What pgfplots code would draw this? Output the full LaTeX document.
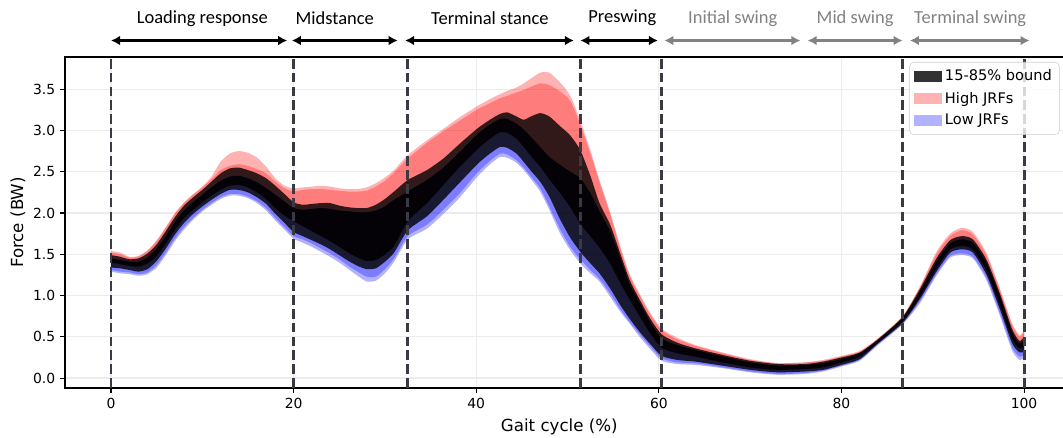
\documentclass[border=0pt]{standalone}
\usepackage{pgfplots}
\pgfplotsset{compat=1.18}
\usepackage{pgfplotstable}
\usepgfplotslibrary{fillbetween}
\usetikzlibrary{arrows.meta}
\usepackage{fontspec}
\setmainfont{DejaVu Sans}
\newfontfamily\phasefont{Carlito}
\definecolor{dashc}{RGB}{58,58,66}
\definecolor{gridc}{RGB}{236,236,236}
\definecolor{swingc}{RGB}{130,130,130}
\definecolor{legc}{RGB}{204,204,204}

\pgfplotstableread{
x ro ri kah kbh kal kbl bi bo
0 1.54 1.52 1.49 1.45 1.40 1.34 1.31 1.29
1 1.52 1.50 1.47 1.43 1.38 1.33 1.29 1.27
2 1.47 1.46 1.44 1.41 1.36 1.31 1.28 1.26
3 1.48 1.47 1.45 1.41 1.35 1.29 1.26 1.24
4 1.55 1.54 1.51 1.46 1.39 1.32 1.28 1.26
5 1.67 1.66 1.62 1.57 1.48 1.42 1.37 1.34
6 1.83 1.82 1.78 1.72 1.63 1.57 1.52 1.49
7 2.00 1.99 1.95 1.89 1.80 1.74 1.69 1.66
8 2.13 2.12 2.09 2.03 1.94 1.88 1.83 1.80
9 2.23 2.22 2.19 2.13 2.04 1.99 1.94 1.92
10 2.32 2.31 2.28 2.22 2.13 2.08 2.04 2.02
11 2.44 2.41 2.38 2.31 2.21 2.16 2.12 2.10
12 2.62 2.52 2.48 2.39 2.28 2.23 2.19 2.17
13 2.72 2.57 2.54 2.44 2.33 2.28 2.23 2.21
14 2.75 2.59 2.55 2.45 2.34 2.28 2.23 2.21
15 2.73 2.57 2.52 2.42 2.31 2.25 2.20 2.18
16 2.67 2.53 2.48 2.37 2.25 2.19 2.14 2.12
17 2.56 2.48 2.42 2.30 2.17 2.11 2.06 2.03
18 2.42 2.38 2.33 2.22 2.06 1.99 1.94 1.91
19 2.33 2.30 2.23 2.14 1.97 1.88 1.83 1.80
20 2.30 2.26 2.13 2.06 1.90 1.77 1.72 1.69
21 2.31 2.28 2.10 2.04 1.84 1.72 1.68 1.64
22 2.32 2.29 2.11 2.05 1.78 1.67 1.63 1.59
23 2.33 2.29 2.12 2.06 1.72 1.62 1.57 1.53
24 2.32 2.28 2.12 2.05 1.66 1.56 1.51 1.47
25 2.30 2.27 2.09 2.03 1.59 1.49 1.44 1.40
26 2.29 2.26 2.07 2.02 1.52 1.42 1.36 1.32
27 2.29 2.26 2.06 2.01 1.46 1.36 1.29 1.24
28 2.31 2.27 2.06 2.01 1.42 1.32 1.23 1.17
29 2.36 2.32 2.10 2.03 1.43 1.33 1.23 1.18
30 2.43 2.39 2.17 2.08 1.50 1.41 1.32 1.27
31 2.52 2.49 2.26 2.16 1.60 1.52 1.45 1.41
32.5 2.70 2.66 2.40 2.26 1.90 1.79 1.72 1.68
34.6 2.88 2.85 2.52 2.40 2.12 1.96 1.86 1.81
36.4 3.02 2.99 2.66 2.55 2.34 2.16 2.04 1.99
38.2 3.16 3.12 2.84 2.74 2.56 2.37 2.24 2.19
40.2 3.30 3.26 3.03 2.96 2.78 2.60 2.50 2.45
41.5 3.38 3.33 3.13 3.07 2.90 2.72 2.63 2.59
42.6 3.44 3.39 3.20 3.14 2.98 2.80 2.72 2.68
43.4 3.48 3.42 3.22 3.14 2.97 2.79 2.71 2.67
44.4 3.52 3.46 3.17 3.08 2.90 2.72 2.64 2.61
45.2 3.57 3.49 3.13 3.01 2.80 2.62 2.55 2.52
46.0 3.63 3.53 3.17 2.92 2.69 2.51 2.44 2.41
47.0 3.70 3.57 3.21 2.80 2.56 2.38 2.30 2.26
48.0 3.70 3.55 3.17 2.68 2.41 2.20 2.08 2.04
49.2 3.58 3.47 3.05 2.58 2.24 1.92 1.80 1.75
50.3 3.42 3.36 2.94 2.50 2.07 1.70 1.59 1.55
51.4 3.12 3.07 2.76 2.42 1.87 1.53 1.44 1.39
52.5 2.76 2.72 2.45 2.24 1.72 1.39 1.31 1.27
53.5 2.40 2.37 2.12 2.02 1.58 1.27 1.20 1.17
54.7 2.00 1.97 1.85 1.77 1.38 1.08 1.02 0.98
55.8 1.59 1.56 1.50 1.44 1.15 0.88 0.83 0.80
56.8 1.26 1.24 1.19 1.14 0.95 0.72 0.68 0.66
57.9 1.02 1.00 0.95 0.91 0.75 0.56 0.53 0.50
59.0 0.80 0.78 0.73 0.69 0.55 0.42 0.39 0.36
60.3 0.60 0.58 0.53 0.48 0.37 0.27 0.24 0.21
62 0.49 0.47 0.43 0.40 0.30 0.22 0.19 0.17
64 0.40 0.39 0.36 0.34 0.26 0.20 0.18 0.16
67 0.31 0.30 0.28 0.26 0.19 0.15 0.13 0.12
70 0.23 0.22 0.21 0.19 0.13 0.10 0.08 0.07
73 0.18 0.18 0.17 0.15 0.10 0.07 0.05 0.04
76 0.19 0.19 0.17 0.16 0.11 0.08 0.06 0.05
78 0.22 0.21 0.20 0.18 0.13 0.10 0.09 0.08
80 0.27 0.26 0.25 0.23 0.19 0.16 0.15 0.14
82 0.33 0.32 0.31 0.30 0.26 0.23 0.22 0.21
84 0.48 0.48 0.47 0.46 0.43 0.42 0.41 0.40
86.7 0.75 0.75 0.74 0.73 0.69 0.67 0.66 0.65
88.6 1.11 1.10 1.08 1.05 0.99 0.96 0.93 0.91
90.4 1.53 1.50 1.45 1.41 1.33 1.29 1.26 1.24
91.9 1.75 1.72 1.67 1.63 1.56 1.52 1.48 1.46
93.2 1.82 1.79 1.72 1.68 1.60 1.56 1.51 1.49
94.4 1.77 1.74 1.68 1.64 1.56 1.52 1.47 1.45
95.9 1.51 1.48 1.43 1.39 1.30 1.25 1.21 1.18
97.4 1.07 1.05 1.01 0.97 0.87 0.82 0.77 0.74
98.7 0.66 0.64 0.59 0.55 0.47 0.42 0.37 0.33
99.5 0.52 0.50 0.45 0.42 0.36 0.31 0.26 0.22
100 0.58 0.56 0.50 0.46 0.39 0.32 0.28 0.25
}\gaitdata

\begin{document}
\begin{tikzpicture}
\begin{axis}[
  scale only axis, width=723.4pt, height=238.3pt,
  xmin=-5.04, xmax=105, ymin=-0.12, ymax=3.89,
  xtick={0,20,40,60,80,100},
  ytick={0,0.5,1,1.5,2,2.5,3,3.5},
  /pgf/number format/assume math mode=true,
  y tick label style={/pgf/number format/.cd, fixed, fixed zerofill, precision=1, /tikz/.cd},
  tick label style={font=\fontsize{10}{12}\selectfont},
  label style={font=\fontsize{12}{14}\selectfont},
  xlabel={Gait cycle (\%)}, ylabel={Force (BW)},
  x label style={at={(axis description cs:0.492,-0.1175)}, anchor=center},
  y label style={at={(axis description cs:-0.047,0.5)}, anchor=center},
  tick align=outside, xtick pos=bottom, ytick pos=left, major tick length=3.5pt,
  tick style={black, line width=0.8pt},
  grid=major, grid style={gridc, line width=0.9pt},
  axis line style={line width=0.8pt},
  clip=false,
  legend style={at={(axis description cs:0.99,0.985)}, anchor=north east,
    draw=legc, rounded corners=3pt, fill=white, fill opacity=0.8, text opacity=1,
    font=\fontsize{10.5}{12.5}\selectfont, inner sep=3.5pt, row sep=2.5pt},
  legend cell align=left,
]
\addplot[name path=ro, draw=none, smooth, tension=0.4, forget plot] table[x=x,y=ro]{\gaitdata};
\addplot[name path=ri, draw=none, smooth, tension=0.4, forget plot] table[x=x,y=ri]{\gaitdata};
\addplot[name path=kah, draw=none, smooth, tension=0.4, forget plot] table[x=x,y=kah]{\gaitdata};
\addplot[name path=kbh, draw=none, smooth, tension=0.4, forget plot] table[x=x,y=kbh]{\gaitdata};
\addplot[name path=kal, draw=none, smooth, tension=0.4, forget plot] table[x=x,y=kal]{\gaitdata};
\addplot[name path=kbl, draw=none, smooth, tension=0.4, forget plot] table[x=x,y=kbl]{\gaitdata};
\addplot[name path=bi, draw=none, smooth, tension=0.4, forget plot] table[x=x,y=bi]{\gaitdata};
\addplot[name path=bo, draw=none, smooth, tension=0.4, forget plot] table[x=x,y=bo]{\gaitdata};
% High JRFs (red)
\addplot[fill=red, fill opacity=0.3, draw=none, forget plot] fill between[of=ro and kal];
\addplot[fill=red, fill opacity=0.3, draw=none, forget plot] fill between[of=ri and kal];
% Low JRFs (blue)
\addplot[fill=blue, fill opacity=0.3, draw=none, forget plot] fill between[of=kbh and bo];
\addplot[fill=blue, fill opacity=0.3, draw=none, forget plot] fill between[of=kbh and bi];
% 15-85% bounds (black)
\addplot[fill=black, fill opacity=0.8, draw=none, forget plot] fill between[of=kah and kal];
\addplot[fill=black, fill opacity=0.8, draw=none, forget plot] fill between[of=kbh and kbl];
% phase dividers
\foreach \xv in {0,20,32.5,51.4,60.3,86.7,100}{
  \edef\tmp{\noexpand\addplot[dashc, line width=2.1pt, dash pattern=on 7pt off 3pt, forget plot] coordinates {(\xv,-0.12) (\xv,3.89)};}
  \tmp
}
\addlegendimage{legend image code/.code={\path[fill=black, fill opacity=0.8, draw=none, sharp corners] (0pt,-3.8pt) rectangle (20pt,3.8pt);}}
\addlegendentry{15-85\% bound}
\addlegendimage{legend image code/.code={\path[fill=red, fill opacity=0.3, draw=none, sharp corners] (0pt,-3.8pt) rectangle (20pt,3.8pt);}}
\addlegendentry{High JRFs}
\addlegendimage{legend image code/.code={\path[fill=blue, fill opacity=0.3, draw=none, sharp corners] (0pt,-3.8pt) rectangle (20pt,3.8pt);}}
\addlegendentry{Low JRFs}
% phase annotations
\draw[black, line width=1.5pt, {Latex[length=6.5pt,width=7pt]}-{Latex[length=6.5pt,width=7pt]}] (axis cs:0,4.09) -- (axis cs:19.3,4.09);
\draw[black, line width=1.5pt, {Latex[length=6.5pt,width=7pt]}-{Latex[length=6.5pt,width=7pt]}] (axis cs:19.8,4.09) -- (axis cs:31.4,4.09);
\draw[black, line width=1.5pt, {Latex[length=6.5pt,width=7pt]}-{Latex[length=6.5pt,width=7pt]}] (axis cs:32.2,4.09) -- (axis cs:50.7,4.09);
\draw[black, line width=1.5pt, {Latex[length=6.5pt,width=7pt]}-{Latex[length=6.5pt,width=7pt]}] (axis cs:51.4,4.09) -- (axis cs:59.9,4.09);
\draw[swingc, line width=1.5pt, {Latex[length=6.5pt,width=7pt]}-{Latex[length=6.5pt,width=7pt]}] (axis cs:60.6,4.09) -- (axis cs:75.5,4.09);
\draw[swingc, line width=1.5pt, {Latex[length=6.5pt,width=7pt]}-{Latex[length=6.5pt,width=7pt]}] (axis cs:76.3,4.09) -- (axis cs:86.7,4.09);
\draw[swingc, line width=1.5pt, {Latex[length=6.5pt,width=7pt]}-{Latex[length=6.5pt,width=7pt]}] (axis cs:87.5,4.09) -- (axis cs:100.6,4.09);
\begin{scope}[every node/.style={font=\phasefont\fontsize{13.3}{15}\selectfont, inner sep=0pt, anchor=center}]
\node[black] at (axis cs:10,4.36) {Loading response};
\node[black] at (axis cs:24.5,4.36) {Midstance};
\node[black] at (axis cs:41.5,4.36) {Terminal stance};
\node[black] at (axis cs:56,4.36) {Preswing};
\node[swingc] at (axis cs:68.1,4.36) {Initial swing};
\node[swingc] at (axis cs:81.5,4.36) {Mid swing};
\node[swingc] at (axis cs:94.1,4.36) {Terminal swing};
\end{scope}
\end{axis}
\pgfresetboundingbox
\path[use as bounding box] (-46.8pt,-36pt) rectangle (718.56pt,279.36pt);
\end{tikzpicture}
\end{document}
